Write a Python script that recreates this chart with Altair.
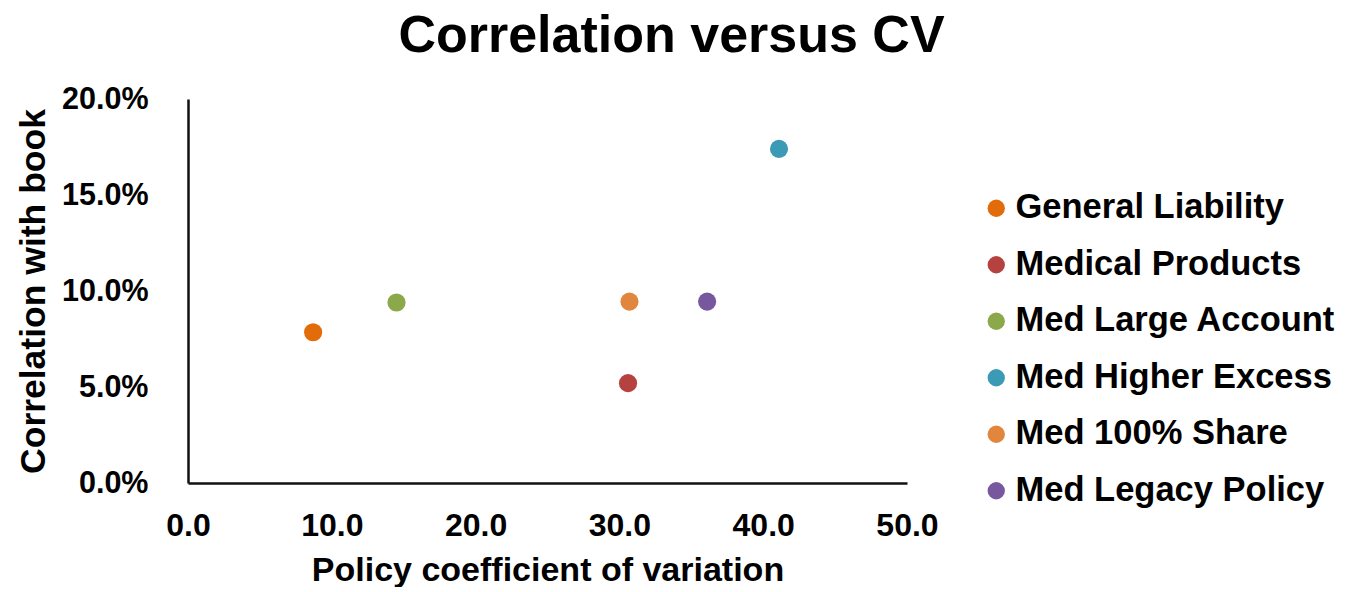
import altair as alt
import pandas as pd

series = ["General Liability", "Medical Products", "Med Large Account",
          "Med Higher Excess", "Med 100% Share", "Med Legacy Policy"]
cv = [8.7, 30.6, 14.5, 41.1, 30.7, 36.1]
corr = [0.0785, 0.052, 0.094, 0.174, 0.0945, 0.0945]
colors = ["#E36C0A", "#B5423F", "#8BA94A", "#3B9AB6", "#E2863D", "#77579E"]

x_ticks = [0, 10, 20, 30, 40, 50]
y_ticks = [0, 0.05, 0.10, 0.15, 0.20]

df = pd.DataFrame({"series": series, "cv": cv, "corr": corr})

FONT = "Liberation Sans"

chart = alt.Chart(df).mark_circle(size=330, opacity=1).encode(
    x=alt.X("cv:Q",
            scale=alt.Scale(domain=[0, 50], nice=False, zero=True),
            axis=alt.Axis(values=x_ticks, format=".1f", title="Policy coefficient of variation",
                          grid=False, ticks=False, tickSize=0, domainColor="#111", domainWidth=2.5,
                          labelFontSize=32, labelFont=FONT, labelFontWeight="bold", labelColor="#000",
                          labelPadding=27, titleFontSize=34, titleFont=FONT, titleFontWeight="bold",
                          titleColor="#000", titlePadding=12, labelFlush=False)),
    y=alt.Y("corr:Q",
            scale=alt.Scale(domain=[0, 0.2], nice=False, zero=True),
            axis=alt.Axis(values=y_ticks, format=".1%", title="Correlation with book",
                          grid=False, ticks=False, tickSize=0, domainColor="#111", domainWidth=2.5,
                          labelFontSize=30.5, labelFont=FONT, labelFontWeight="bold", labelColor="#000",
                          labelPadding=40, titleFontSize=35.5, titleFont=FONT, titleFontWeight="bold",
                          titleColor="#000", titlePadding=10, labelFlush=False)),
    color=alt.Color("series:N",
                    scale=alt.Scale(domain=series, range=colors),
                    legend=alt.Legend(title=None, orient="none", legendX=791, legendY=92,
                                      labelFontSize=34.5, labelFont=FONT, labelFontWeight="bold",
                                      labelColor="#000", symbolType="circle", symbolSize=300,
                                      symbolStrokeWidth=0, symbolOpacity=1, rowPadding=21.5,
                                      labelOffset=2, padding=0, labelLimit=400)),
).properties(
    width=719,
    height=384,
    padding={"left": 8, "top": 2, "right": 0, "bottom": 0},
    title=alt.Title("Correlation versus CV", fontSize=52, font=FONT, fontWeight="bold",
                    color="#000", anchor="middle", dx=124, baseline="bottom", offset=-31),
).configure(background="white").configure_view(strokeWidth=0)

chart.save("out.html", embed_options={"renderer": "svg", "actions": False})
